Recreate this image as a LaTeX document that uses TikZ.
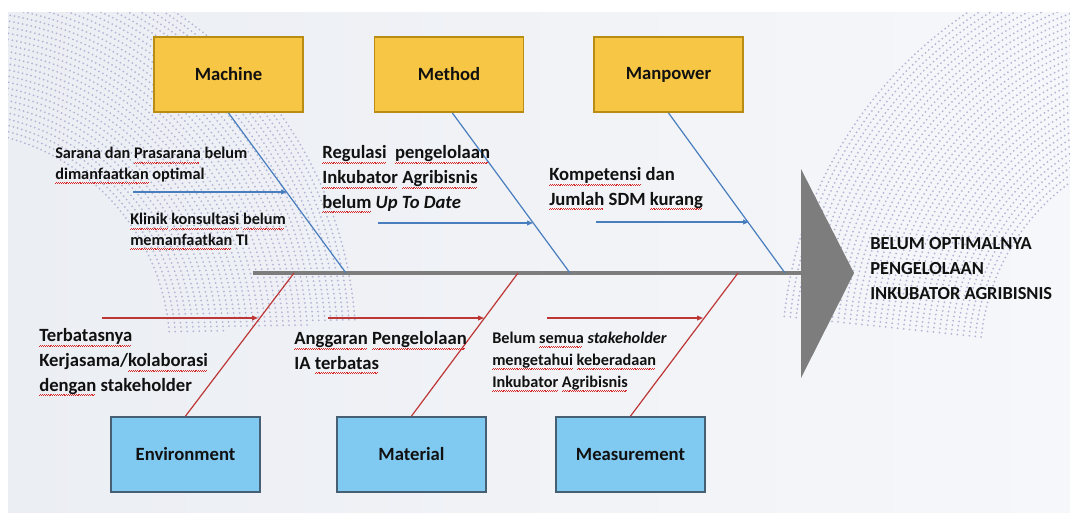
\documentclass[tikz,border=0pt]{standalone}
\usepackage{fontspec}
\setmainfont{Carlito}
\usetikzlibrary{arrows.meta}

\definecolor{slideL}{RGB}{235,238,243}
\definecolor{slideR}{RGB}{246,247,250}
\definecolor{yfill}{RGB}{246,198,68}
\definecolor{ybord}{RGB}{185,140,20}
\definecolor{bfill}{RGB}{128,202,242}
\definecolor{bbord}{RGB}{70,95,115}
\definecolor{boneblue}{RGB}{72,125,190}
\definecolor{bonered}{RGB}{190,55,55}
\definecolor{spinegray}{RGB}{125,125,125}
\definecolor{ink}{RGB}{17,17,17}
\definecolor{squig}{RGB}{215,40,40}
\definecolor{dotlav}{RGB}{180,180,214}

% wavy red underline for flagged words, built from staggered rules
\newsavebox\sqbox
\newcommand\sqcell{\hbox{\rule[-3.6pt]{0.7pt}{0.45pt}\rule[-3.0pt]{0.7pt}{0.45pt}}}
\newcommand\sq[1]{\sbox\sqbox{#1}%
  \hbox to 0pt{\color{squig}\leaders\sqcell\hskip\wd\sqbox\hss}\usebox\sqbox}

\begin{document}
\begin{tikzpicture}[x=0.75pt,y=-0.75pt,
  catbox/.style={draw=#1, line width=1.4pt, minimum width=149*0.75pt,
    minimum height=75*0.75pt, inner sep=0pt, text=ink,
    font=\fontsize{14pt}{17pt}\selectfont\bfseries},
  topcat/.style={catbox=ybord, fill=yfill},
  botcat/.style={catbox=bbord, fill=bfill},
  smallnote/.style={anchor=base west, align=left, inner sep=0pt, text=ink,
    font=\fontsize{12.2pt}{15.5pt}\selectfont\bfseries},
  note/.style={anchor=base west, align=left, inner sep=0pt, text=ink,
    font=\fontsize{14pt}{18.5pt}\selectfont\bfseries},
  bluebone/.style={draw=boneblue, line width=0.9pt},
  redbone/.style={draw=bonered, line width=0.9pt},
  bluecause/.style={bluebone, -{Triangle[length=4.5pt,width=3.6pt]}},
  redcause/.style={redbone, -{Triangle[length=4.5pt,width=3.6pt]}},
  backdots/.style={draw=dotlav, line width=1.5pt, line cap=round,
    dash pattern=on 0pt off 3.3pt}
]
\useasboundingbox (0,0) rectangle (1070,512);
\fill[white] (0,0) rectangle (1070,512);
\shade[left color=slideL, right color=slideR] (8,12) rectangle (1070,512);

% halftone arcs of the slide background (angles turn clockwise on the page)
\begin{scope}
  \clip (8,12) rectangle (1070,512);
  \foreach \r in {220,226,...,410}
    \draw[backdots] (-50,350) ++(-85:\r) arc[start angle=-85, end angle=-4, radius=\r];
  \foreach \r in {220,226,...,420}
    \draw[backdots] (1200,360) ++(186:\r) arc[start angle=186, end angle=250, radius=\r];
\end{scope}

% category boxes
\node[topcat] (mach) at (228.5,74.5) {Machine};
\node[topcat] (meth) at (449,74.5)   {Method};
\node[topcat] (manp) at (668.5,74.5) {Manpower};
\node[botcat] (envi) at (185.5,454.5) {Environment};
\node[botcat] (matl) at (411.5,454.5) {Material};
\node[botcat] (meas) at (630.5,454.5) {Measurement};

% spine and head
\coordinate (tail) at (253,273);
\coordinate (neck) at (801,273);
\draw[draw=spinegray, line width=3pt] (tail) -- (neck);
\coordinate (headT) at (801,169);
\coordinate (headB) at (801,378);
\coordinate (headP) at (854,273);
\fill[spinegray] (headT) -- (headP) -- (headB) -- cycle;

% bones
\coordinate (jMach) at (346,273);
\coordinate (jMeth) at (570,273);
\coordinate (jManp) at (785,273);
\coordinate (jEnvi) at (294,273);
\coordinate (jMatl) at (518,273);
\coordinate (jMeas) at (738,273);
\draw[bluebone] (mach.south) -- (jMach);
\draw[bluebone] ([xshift=2.5pt]meth.south) -- (jMeth);
\draw[bluebone] (manp.south) -- (jManp);
\draw[redbone] (envi.north) -- (jEnvi);
\draw[redbone] (matl.north) -- (jMatl);
\draw[redbone] (meas.north) -- (jMeas);

% cause arrows
\coordinate (c1s) at (133,192); \coordinate (c1e) at (287,192);
\coordinate (c2s) at (378,223); \coordinate (c2e) at (533,223);
\coordinate (c3s) at (596,222); \coordinate (c3e) at (749,222);
\coordinate (c4s) at (102,318); \coordinate (c4e) at (258,318);
\coordinate (c5s) at (328,318); \coordinate (c5e) at (484,318);
\coordinate (c6s) at (547,318); \coordinate (c6e) at (703,318);
\draw[bluecause] (c1s) -- (c1e);
\draw[bluecause] (c2s) -- (c2e);
\draw[bluecause] (c3s) -- (c3e);
\draw[redcause] (c4s) -- (c4e);
\draw[redcause] (c5s) -- (c5e);
\draw[redcause] (c6s) -- (c6e);

% cause texts (placed by the baseline of their last line)
\node[smallnote] (tSarana) at (55,179)
  {Sarana dan \sq{Prasarana} belum\\ \sq{dimanfaatkan} optimal};
\node[smallnote] (tKlinik) at (130,245)
  {\sq{Klinik} \sq{konsultasi} \sq{belum}\\ \sq{memanfaatkan} TI};
\node[note] (tReg) at (322,208)
  {\sq{Regulasi}\hspace{0.45em}\sq{pengelolaan}\\ \sq{Inkubator} \sq{Agribisnis}\\ \sq{belum} \textit{Up To Date}};
\node[note] (tKomp) at (549,205)
  {\sq{Kompetensi} dan\\ \sq{Jumlah} SDM \sq{kurang}};
\node[note] (tTerb) at (39,391)
  {\sq{Terbatasnya}\\ Kerjasama/\sq{kolaborasi}\\ \sq{dengan} stakeholder};
\node[note] (tAngg) at (294,369)
  {\sq{Anggaran} \sq{Pengelolaan}\\ IA \sq{terbatas}};
\node[smallnote, font=\fontsize{12.2pt}{16.5pt}\selectfont\bfseries] (tBelum) at (492,387)
  {Belum \sq{semua} \textit{stakeholder}\\ \sq{mengetahui} \sq{keberadaan}\\ \sq{Inkubator} \sq{Agribisnis}};

% effect
\node[note, font=\fontsize{13.8pt}{18.75pt}\selectfont\bfseries] (effect) at (870,299)
  {BELUM OPTIMALNYA\\ PENGELOLAAN\\ INKUBATOR AGRIBISNIS};
\end{tikzpicture}
\end{document}
